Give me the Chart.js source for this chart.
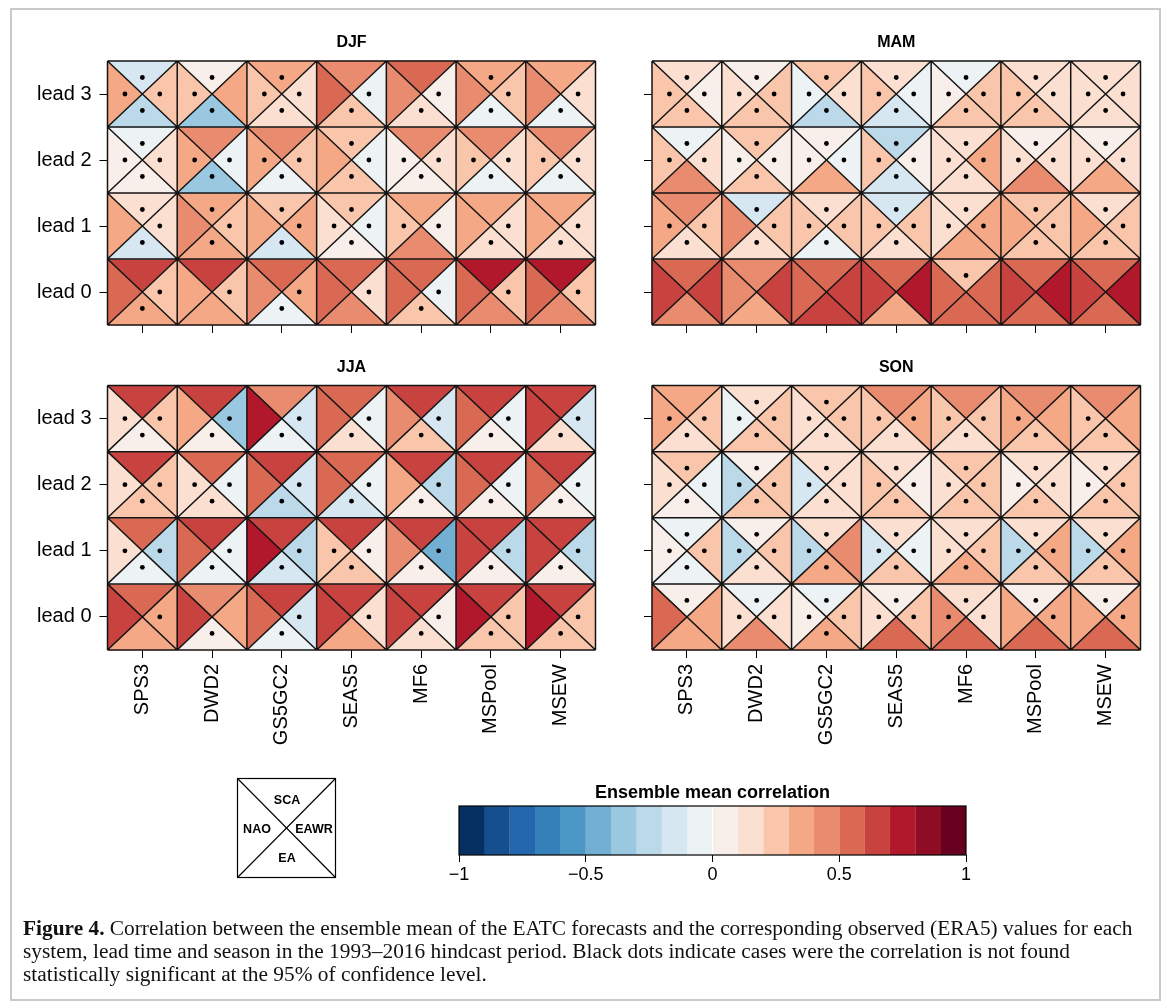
<!DOCTYPE html>
<html><head><meta charset="utf-8">
<script src="https://cdn.jsdelivr.net/npm/chart.js@4.4.1/dist/chart.umd.min.js"></script>
<style>
html,body{margin:0;padding:0;background:#fff;}
#wrap{position:relative;width:1170px;height:1007px;overflow:hidden;background:#fff;}
#wrap canvas{position:absolute;}
#frame{position:absolute;left:10px;top:8px;width:1151px;height:993px;border:2px solid #c9c9c9;box-sizing:border-box;}
#key{position:absolute;left:0;top:0;}
.cap{position:absolute;left:23px;white-space:nowrap;font-family:"Liberation Serif","Times New Roman",serif;font-size:18px;line-height:23px;color:#111;}
</style>
</head><body>
<div id="wrap">
<div id="frame"></div>
<canvas id="cDJF"></canvas><canvas id="cMAM"></canvas><canvas id="cJJA"></canvas><canvas id="cSON"></canvas>
<canvas id="cBar"></canvas>
<svg id="key" width="1170" height="1007" style="pointer-events:none">
  <rect x="237.5" y="778.5" width="98" height="99" fill="none" stroke="#000" stroke-width="1.2"/>
  <line x1="237.5" y1="778.5" x2="335.5" y2="877.5" stroke="#000" stroke-width="1.2"/>
  <line x1="335.5" y1="778.5" x2="237.5" y2="877.5" stroke="#000" stroke-width="1.2"/>
  <g font-family="Liberation Sans, Arial, sans-serif" font-weight="bold" font-size="12.5" text-anchor="middle" fill="#000">
    <text x="287" y="804">SCA</text>
    <text x="257" y="833">NAO</text>
    <text x="314" y="833">EAWR</text>
    <text x="287" y="862">EA</text>
  </g>
</svg>
<div class="cap" id="cap1" style="top:917px"><b>Figure 4.</b> Correlation between the ensemble mean of the EATC forecasts and the corresponding observed (ERA5) values for each</div>
<div class="cap" id="cap2" style="top:940px">system, lead time and season in the 1993–2016 hindcast period. Black dots indicate cases were the correlation is not found</div>
<div class="cap" id="cap3" style="top:963px">statistically significant at the 95% of confidence level.</div>
</div>
<script>
// ---------------- data ----------------
const systems = ['SPS3','DWD2','GS5GC2','SEAS5','MF6','MSPool','MSEW'];
const leads = ['lead 0','lead 1','lead 2','lead 3'];
const patterns = ['SCA','NAO','EAWR','EA'];

// rows = lead 0..3, columns = systems
const djfSCA  = [[0.65,0.65,0.55,0.55,0.55,0.75,0.75],[0.15,0.35,0.25,0.25,0.35,0.35,0.35],[-0.05,0.45,0.45,0.25,0.45,0.45,0.45],[-0.15,0.05,0.35,0.45,0.55,0.35,0.35]];
const djfNAO  = [[0.55,0.35,0.45,0.55,0.55,0.55,0.55],[0.35,0.45,0.35,0.15,0.25,0.35,0.35],[0.05,0.35,0.35,0.35,0.05,0.25,0.25],[0.35,0.25,0.25,0.55,0.45,0.45,0.45]];
const djfEAWR = [[0.25,0.25,0.35,0.15,-0.05,0.25,0.25],[0.15,0.25,0.35,-0.05,0.05,0.15,0.15],[0.15,-0.05,0.25,-0.05,0.15,0.15,0.15],[0.25,0.35,0.15,-0.05,0.05,0.25,0.15]];
const djfEA   = [[0.35,0.35,-0.05,0.45,0.25,0.45,0.45],[-0.15,0.35,-0.15,0.05,0.45,0.15,0.15],[0.05,-0.35,-0.05,0.25,0.05,-0.05,-0.05],[-0.25,-0.35,0.15,0.25,0.15,-0.05,-0.05]];
const djfSCAns  = [[0,0,0,0,0,0,0],[1,1,1,1,0,0,0],[1,0,0,1,0,0,0],[1,1,1,0,0,1,0]];
const djfNAOns  = [[0,0,0,0,0,0,0],[0,0,0,1,1,0,0],[1,1,1,0,1,1,1],[1,1,1,0,0,0,0]];
const djfEAWRns = [[1,1,1,1,1,1,1],[1,1,1,1,1,1,1],[1,1,1,1,1,1,1],[1,0,1,1,1,1,1]];
const djfEAns   = [[1,0,1,0,1,0,0],[1,1,1,1,0,1,1],[1,1,1,1,1,1,1],[1,1,1,1,1,1,1]];

const mamSCA  = [[0.55,0.45,0.55,0.55,0.25,0.55,0.55],[0.45,-0.15,0.15,-0.15,0.15,0.25,0.15],[-0.05,0.25,0.05,-0.25,0.15,0.05,0.05],[0.15,0.05,0.25,0.15,-0.05,0.15,0.15]];
const mamNAO  = [[0.65,0.45,0.55,0.65,0.55,0.65,0.65],[0.35,0.45,0.25,0.25,0.15,0.35,0.35],[0.25,0.05,0.05,0.25,0.15,0.15,0.15],[0.25,0.15,-0.05,0.25,0.05,0.25,0.15]];
const mamEAWR = [[0.65,0.65,0.65,0.75,0.55,0.75,0.75],[0.25,0.25,0.25,0.25,0.35,0.25,0.25],[0.15,0.05,-0.05,0.05,0.35,0.15,0.15],[0.05,0.25,0.15,-0.05,0.25,0.15,0.15]];
const mamEA   = [[0.45,0.35,0.65,0.35,0.55,0.55,0.55],[0.15,0.15,-0.05,0.15,0.35,0.25,0.25],[0.45,0.25,0.35,-0.15,0.15,0.45,0.35],[0.25,0.25,-0.25,-0.15,0.25,0.25,0.15]];
const mamSCAns  = [[0,0,0,0,1,0,0],[0,1,1,1,1,1,1],[1,1,1,1,1,1,1],[1,1,1,1,1,1,1]];
const mamNAOns  = [[0,0,0,0,0,0,0],[1,0,1,1,1,0,0],[1,1,1,1,1,1,1],[1,1,1,1,1,1,1]];
const mamEAWRns = [[0,0,0,0,0,0,0],[1,1,1,1,1,1,1],[1,1,1,1,1,1,1],[1,1,1,1,1,1,1]];
const mamEAns   = [[0,0,0,0,0,0,0],[1,1,1,1,0,1,1],[0,1,0,1,1,0,0],[1,1,1,1,1,1,1]];

const jjaSCA  = [[0.55,0.45,0.65,0.65,0.65,0.65,0.65],[0.55,0.65,0.65,0.65,0.65,0.65,0.65],[0.65,0.55,0.65,0.55,0.65,0.65,0.65],[0.65,0.65,0.45,0.55,0.65,0.65,0.65]];
const jjaNAO  = [[0.65,0.65,0.55,0.65,0.65,0.75,0.75],[0.15,0.55,0.75,0.25,0.45,0.65,0.65],[0.15,0.15,0.55,0.55,0.35,0.55,0.55],[0.15,0.35,0.75,0.55,0.45,0.55,0.65]];
const jjaEAWR = [[0.35,0.35,-0.15,0.15,0.05,0.25,0.25],[-0.25,-0.05,-0.25,0.05,-0.45,-0.25,-0.25],[0.25,-0.05,-0.15,-0.05,-0.25,-0.05,-0.05],[0.25,-0.35,-0.15,-0.05,-0.15,-0.05,-0.15]];
const jjaEA   = [[0.35,0.05,-0.05,0.35,0.15,0.25,0.25],[-0.05,-0.05,-0.15,0.25,0.05,0.05,0.05],[0.25,0.15,-0.25,-0.15,0.05,0.05,0.05],[0.05,0.05,-0.05,0.15,0.25,0.05,0.15]];
const jjaSCAns  = [[0,0,0,0,0,0,0],[0,0,0,0,0,0,0],[0,0,0,0,0,0,0],[0,0,0,0,0,0,0]];
const jjaNAOns  = [[0,0,0,0,0,0,0],[1,0,0,1,0,0,0],[1,1,0,0,0,0,0],[1,0,0,0,0,0,0]];
const jjaEAWRns = [[1,0,1,1,1,1,1],[1,1,1,1,1,1,1],[1,1,1,1,1,1,1],[1,1,1,1,1,1,1]];
const jjaEAns   = [[0,1,1,0,1,1,1],[1,1,1,1,1,1,1],[1,1,1,1,1,1,1],[1,1,1,1,1,1,1]];

const sonSCA  = [[0.05,-0.05,-0.05,0.05,0.15,0.05,0.05],[-0.05,0.05,0.15,0.15,0.15,0.15,0.15],[0.25,0.05,0.15,0.15,0.25,0.15,0.15],[0.35,0.15,0.25,0.45,0.45,0.45,0.45]];
const sonNAO  = [[0.55,0.15,0.05,0.15,0.45,0.35,0.35],[0.05,-0.25,-0.25,-0.15,0.15,-0.25,-0.25],[0.15,-0.25,-0.15,0.25,0.15,0.05,0.05],[0.35,-0.05,0.15,0.25,0.25,0.35,0.25]];
const sonEAWR = [[0.35,0.15,0.25,0.25,0.15,0.35,0.35],[0.25,0.25,0.45,-0.05,0.25,0.35,0.35],[-0.05,0.25,0.15,0.05,0.25,0.15,0.25],[0.25,0.25,0.25,0.35,0.25,0.35,0.35]];
const sonEA   = [[0.35,0.45,0.35,0.55,0.55,0.55,0.55],[-0.05,0.15,0.35,0.25,0.35,0.25,0.25],[0.05,0.25,0.15,0.25,0.25,0.25,0.25],[0.15,0.25,0.15,0.15,0.15,0.25,0.25]];
const sonSCAns  = [[1,1,1,1,1,1,1],[1,1,1,1,1,1,1],[1,1,1,1,1,1,1],[0,1,1,0,0,0,0]];
const sonNAOns  = [[0,1,1,1,1,0,0],[1,1,1,1,1,1,1],[1,1,1,1,1,1,1],[1,1,1,1,1,1,1]];
const sonEAWRns = [[0,1,1,1,1,1,1],[1,1,0,1,1,1,1],[1,1,1,1,1,1,1],[1,1,1,1,1,0,0]];
const sonEAns   = [[0,0,1,0,0,0,0],[1,1,1,1,1,1,1],[1,1,1,1,1,1,1],[1,1,1,1,1,1,1]];

// colour scale (20 classes from -1 to 1)
const colorBreaks = [-1,-0.9,-0.8,-0.7,-0.6,-0.5,-0.4,-0.3,-0.2,-0.1,0,0.1,0.2,0.3,0.4,0.5,0.6,0.7,0.8,0.9,1];
const colorPalette = ['#053061','#164f8e','#2467ae','#3680ba','#4b97c6','#72afd3','#9ac8e0','#bcd9ea','#d6e7f1','#edf2f5',
                      '#f9efea','#fbe0d2','#f9c6ac','#f4a886','#e98b6f','#da6954','#c8423f','#b2182b','#8f0c25','#67001f'];
const colorbarTicks = [-1,-0.5,0,0.5,1];
const colorbarTickLabels = ['\u22121','\u22120.5','0','0.5','1'];

// ---------------- drawing ----------------
const FAM = '"Liberation Sans", Arial, Helvetica, sans-serif';
function valueColor(v){
  for (let i=0;i<colorPalette.length;i++){ if (v < colorBreaks[i+1]) return colorPalette[i]; }
  return colorPalette[colorPalette.length-1];
}

function makePanel(id, place, title, g, ns, showX, showY){
  const cv = document.getElementById(id);
  cv.width = place.w; cv.height = place.h;
  cv.style.left = place.left+'px'; cv.style.top = place.top+'px';
  const offs = [[0,0.25],[-0.25,0],[0.25,0],[0,-0.25]]; // SCA, NAO, EAWR, EA
  const dots = [];
  for (let k=0;k<4;k++) for (let r=0;r<leads.length;r++) for (let c=0;c<systems.length;c++){
    if (ns[k][r][c]) dots.push({x:c+0.5+offs[k][0], y:r+0.5+offs[k][1]});
  }
  const tri = {
    id:'tri'+id,
    beforeDatasetsDraw(chart){
      const {ctx, chartArea, scales:{x,y}} = chart;
      ctx.save();
      for (let r=0;r<leads.length;r++) for (let c=0;c<systems.length;c++){
        const xl=x.getPixelForValue(c), xr=x.getPixelForValue(c+1), xm=x.getPixelForValue(c+0.5);
        const yb=y.getPixelForValue(r), yt=y.getPixelForValue(r+1), ym=y.getPixelForValue(r+0.5);
        const sides=[[[xl,yt],[xr,yt]],[[xl,yt],[xl,yb]],[[xr,yt],[xr,yb]],[[xl,yb],[xr,yb]]];
        for (let k=0;k<4;k++){
          const col=valueColor(g[k][r][c]); const p=sides[k];
          ctx.beginPath(); ctx.moveTo(p[0][0],p[0][1]); ctx.lineTo(p[1][0],p[1][1]); ctx.lineTo(xm,ym); ctx.closePath();
          ctx.fillStyle=col; ctx.fill(); ctx.strokeStyle=col; ctx.lineWidth=0.7; ctx.stroke();
        }
      }
      ctx.strokeStyle='#141414'; ctx.lineWidth=1.5; ctx.beginPath();
      for (let c=0;c<=systems.length;c++){ const px=x.getPixelForValue(c); ctx.moveTo(px,y.getPixelForValue(0)); ctx.lineTo(px,y.getPixelForValue(leads.length)); }
      for (let r=0;r<=leads.length;r++){ const py=y.getPixelForValue(r); ctx.moveTo(x.getPixelForValue(0),py); ctx.lineTo(x.getPixelForValue(systems.length),py); }
      for (let r=0;r<leads.length;r++) for (let c=0;c<systems.length;c++){
        const xl=x.getPixelForValue(c), xr=x.getPixelForValue(c+1), yb=y.getPixelForValue(r), yt=y.getPixelForValue(r+1);
        ctx.moveTo(xl,yt); ctx.lineTo(xr,yb); ctx.moveTo(xr,yt); ctx.lineTo(xl,yb);
      }
      ctx.stroke();
      ctx.fillStyle='#000'; ctx.font='bold 16px '+FAM; ctx.textAlign='center'; ctx.textBaseline='middle';
      ctx.fillText(title,(chartArea.left+chartArea.right)/2,chartArea.top-18);
      ctx.restore();
    }
  };
  return new Chart(cv, {
    type:'scatter',
    data:{datasets:[{data:dots, backgroundColor:'#000', borderWidth:0, pointRadius:2.4, pointHoverRadius:2.4}]},
    options:{
      responsive:false, animation:false, events:[],
      layout:{padding:{left:0,right:place.pr,top:place.pt,bottom:place.pb}},
      plugins:{legend:{display:false}, tooltip:{enabled:false}},
      scales:{
        x:{type:'linear', min:0, max:systems.length,
           afterBuildTicks:(s)=>{ s.ticks = systems.map((n,i)=>({value:i+0.5})); },
           afterFit:(s)=>{ s.height = place.xh; },
           grid:{drawOnChartArea:false, drawTicks:true, tickLength:8, color:'#000', lineWidth:1},
           border:{display:false},
           ticks:{autoSkip:false, minRotation:90, maxRotation:90, padding:6, color:'#000', font:{family:FAM,size:20},
                  callback:(v)=> showX ? systems[Math.round(v-0.5)] : ''}},
        y:{type:'linear', min:0, max:leads.length,
           afterBuildTicks:(s)=>{ s.ticks = leads.map((n,i)=>({value:i+0.5})); },
           afterFit:(s)=>{ s.width = place.yw; },
           grid:{drawOnChartArea:false, drawTicks:true, tickLength:8, color:'#000', lineWidth:1},
           border:{display:false},
           ticks:{autoSkip:false, padding:8, color:'#000', font:{family:FAM,size:20},
                  callback:(v)=> showY ? leads[Math.round(v-0.5)] : ''}}
      }
    },
    plugins:[tri]
  });
}

makePanel('cDJF',{left:0,top:0,w:610,h:345,yw:107.5,pr:14.5,pt:61,pb:8.5,xh:10},'DJF',
  [djfSCA,djfNAO,djfEAWR,djfEA],[djfSCAns,djfNAOns,djfEAWRns,djfEAns],false,true);
makePanel('cMAM',{left:560,top:0,w:600,h:345,yw:92,pr:19.5,pt:61,pb:8.5,xh:10},'MAM',
  [mamSCA,mamNAO,mamEAWR,mamEA],[mamSCAns,mamNAOns,mamEAWRns,mamEAns],false,false);
makePanel('cJJA',{left:0,top:345,w:610,h:420,yw:107.5,pr:14.5,pt:40.5,pb:5,xh:110},'JJA',
  [jjaSCA,jjaNAO,jjaEAWR,jjaEA],[jjaSCAns,jjaNAOns,jjaEAWRns,jjaEAns],true,true);
makePanel('cSON',{left:560,top:345,w:600,h:420,yw:92,pr:19.5,pt:40.5,pb:5,xh:110},'SON',
  [sonSCA,sonNAO,sonEAWR,sonEA],[sonSCAns,sonNAOns,sonEAWRns,sonEAns],true,false);

// colour bar
(function(){
  const cv = document.getElementById('cBar');
  cv.width=620; cv.height=120; cv.style.left='400px'; cv.style.top='770px';
  const ds = colorPalette.map((col,i)=>({data:[[colorBreaks[i],colorBreaks[i+1]]], backgroundColor:col, borderColor:col, borderWidth:0.5,
                                         grouped:false, barPercentage:1, categoryPercentage:1}));
  new Chart(cv,{
    type:'bar',
    data:{labels:['r'], datasets:ds},
    options:{
      indexAxis:'y', responsive:false, animation:false, events:[],
      layout:{padding:{left:59,right:54,top:36,bottom:0}},
      plugins:{legend:{display:false}, tooltip:{enabled:false}},
      scales:{
        y:{display:false},
        x:{type:'linear', min:-1, max:1,
           afterBuildTicks:(s)=>{ s.ticks = colorbarTicks.map(v=>({value:v})); },
           afterFit:(s)=>{ s.height = 35; },
           grid:{drawOnChartArea:false, drawTicks:true, tickLength:7, color:'#000', lineWidth:1},
           border:{display:false},
           ticks:{padding:2, color:'#000', font:{family:FAM,size:18}, maxRotation:0,
                  callback:(v)=> colorbarTickLabels[colorbarTicks.indexOf(v)]}}
      }
    },
    plugins:[{id:'cbframe', afterDatasetsDraw(chart){
      const {ctx, chartArea:a} = chart;
      ctx.save(); ctx.strokeStyle='#000'; ctx.lineWidth=1.2;
      ctx.strokeRect(a.left,a.top,a.right-a.left,a.bottom-a.top);
      ctx.fillStyle='#000'; ctx.font='bold 18px '+FAM; ctx.textAlign='center'; ctx.textBaseline='middle';
      ctx.fillText('Ensemble mean correlation',(a.left+a.right)/2,a.top-13);
      ctx.restore();
    }}]
  });
})();

// caption fitting
(function(){
  const c1=document.getElementById('cap1');
  const w=c1.getBoundingClientRect().width;
  const fs=18*1110/w;
  ['cap1','cap2','cap3'].forEach(id=>{document.getElementById(id).style.fontSize=fs.toFixed(2)+'px';});
})();
</script>
</body></html>
